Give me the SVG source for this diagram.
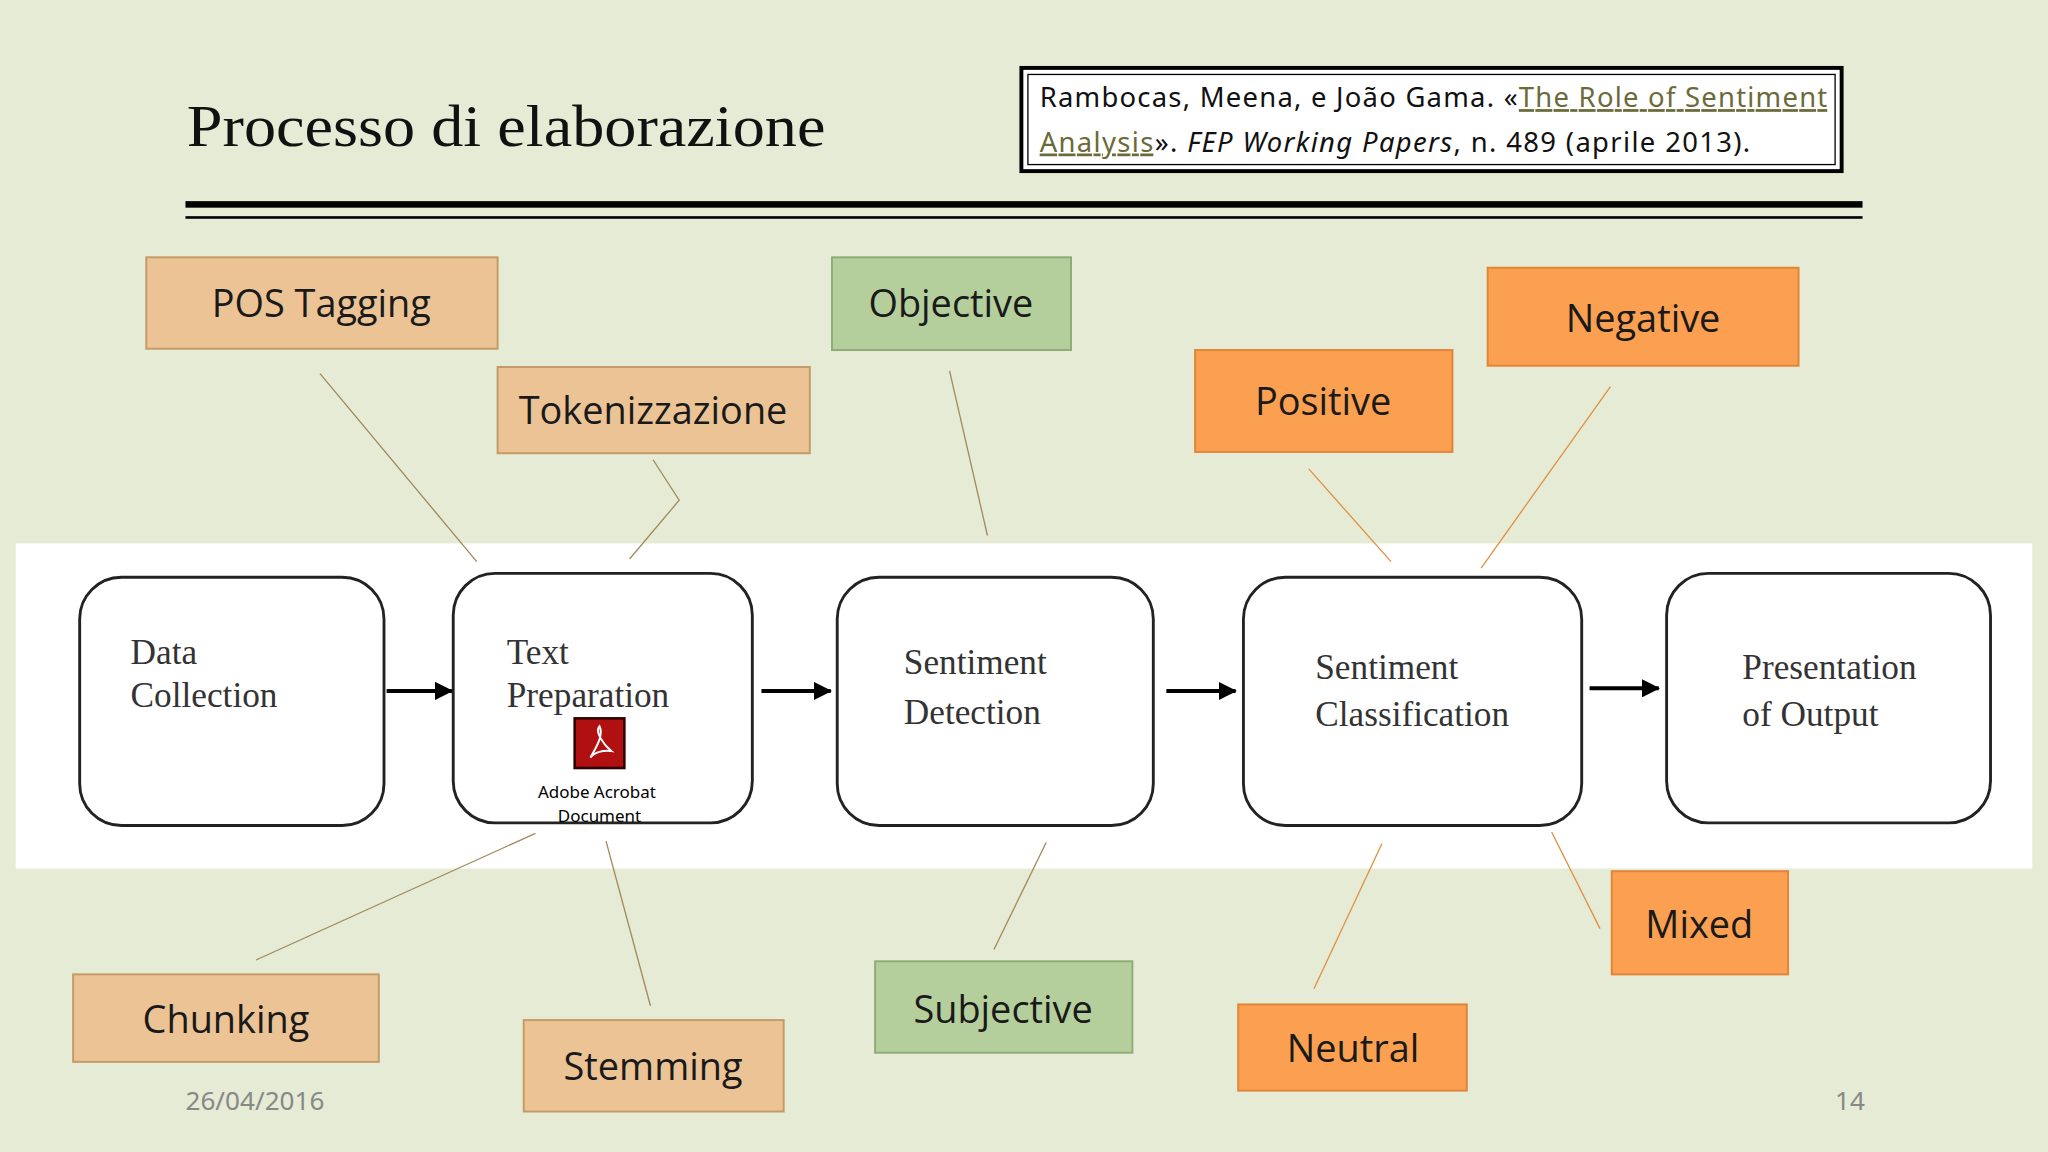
<svg xmlns="http://www.w3.org/2000/svg" width="2048" height="1152" viewBox="0 0 2048 1152">
<defs>
<style>
.tag{font-family:"Open Sans","Noto Sans",sans-serif;font-size:29px;text-anchor:middle;fill:#1a1a1a}
.tan{fill:#ebc395;stroke:#c49a68;stroke-width:1.5}
.grn{fill:#b5cf9c;stroke:#8fac77;stroke-width:1.5}
.org{fill:#fba050;stroke:#e0843a;stroke-width:1.5}
.proc{fill:#fff;stroke:#222;stroke-width:2.2}
.pt{font-family:"Liberation Serif",serif;font-size:27px;fill:#333}
.ln{stroke:#a08a5a;stroke-width:1;fill:none}
.lo{stroke:#e09040;stroke-width:1;fill:none}
.ar{stroke:#000;stroke-width:3}
</style>
<marker id="ah" markerWidth="14" markerHeight="14" refX="13" refY="7" orient="auto" markerUnits="userSpaceOnUse" viewBox="0 0 14 14"><path d="M0,0 L14,7 L0,14 z" fill="#000"/></marker>
</defs>
<g transform="scale(1.30612)">
<rect x="0" y="0" width="1568" height="882" fill="#e5ebd4"/>
<rect x="12" y="416" width="1544" height="249" fill="#fff"/>
<text x="143" y="112" font-family="Liberation Serif,serif" font-size="46" fill="#111" textLength="489" lengthAdjust="spacingAndGlyphs">Processo di elaborazione</text>
<rect x="782" y="52" width="628" height="79" fill="#fff" stroke="#000" stroke-width="3"/>
<rect x="787" y="57" width="618" height="69" fill="none" stroke="#000" stroke-width="1"/>
<text font-family="Noto Sans,sans-serif" font-size="21" fill="#111"><tspan x="796" y="82" textLength="603" lengthAdjust="spacing">Rambocas, Meena, e João Gama. «<tspan fill="#6b6b3a" text-decoration="underline">The Role of Sentiment</tspan></tspan></text>
<text font-family="Noto Sans,sans-serif" font-size="21" fill="#111" x="796" y="116" textLength="544" lengthAdjust="spacing"><tspan fill="#6b6b3a" text-decoration="underline">Analysis</tspan>».  <tspan font-style="italic">FEP Working Papers</tspan>, n.  489 (aprile 2013).</text>
<rect x="142" y="154" width="1284" height="5" fill="#000"/>
<rect x="142" y="165.5" width="1284" height="2" fill="#000"/>
<text x="142" y="850" font-family="Noto Sans,sans-serif" font-size="20" fill="#888">26/04/2016</text>
<text x="1405" y="850" font-family="Noto Sans,sans-serif" font-size="20" fill="#888">14</text>
<g id="connectors">
<path class="ln" d="M245,286 L365,430"/>
<path class="ln" d="M500,352 L520,383 L482,428"/>
<path class="ln" d="M727,284 L756,410"/>
<path class="lo" d="M1002,359 L1065,430"/>
<path class="lo" d="M1233,296 L1134,435"/>
<path class="ln" d="M410,638 L196,735"/>
<path class="ln" d="M464,644 L498,770"/>
<path class="ln" d="M801,645 L761,727"/>
<path class="lo" d="M1058,646 L1006,757"/>
<path class="lo" d="M1188,637 L1225,711"/>
<line class="ar" x1="296" y1="529" x2="346" y2="529" marker-end="url(#ah)"/>
<line class="ar" x1="583" y1="529" x2="636" y2="529" marker-end="url(#ah)"/>
<line class="ar" x1="893" y1="529" x2="946" y2="529" marker-end="url(#ah)"/>
<line class="ar" x1="1217" y1="527" x2="1270" y2="527" marker-end="url(#ah)"/>
</g>
<g id="data-collection"><rect class="proc" x="61" y="442" width="233" height="190" rx="32"/><text class="pt" x="100" y="508">Data</text><text class="pt" x="100" y="541">Collection</text></g>
<g id="text-preparation"><rect class="proc" x="347" y="439" width="229" height="191" rx="32"/><text class="pt" x="388" y="508">Text</text><text class="pt" x="388" y="541">Preparation</text>
<rect x="440" y="550" width="38" height="38" fill="#b01010" stroke="#300" stroke-width="2"/><path d="M452,580 C458,570 462,562 459,556 C455,560 462,570 468,575 C462,574 455,576 452,580" fill="none" stroke="#fff" stroke-width="1.5"/>
<text x="457" y="611" font-family="Noto Sans,sans-serif" font-size="13" text-anchor="middle" fill="#000">Adobe Acrobat</text><text x="459" y="629" font-family="Noto Sans,sans-serif" font-size="13" text-anchor="middle" fill="#000">Document</text></g>
<g id="sentiment-detection"><rect class="proc" x="641" y="442" width="242" height="190" rx="32"/><text class="pt" x="692" y="516">Sentiment</text><text class="pt" x="692" y="554">Detection</text></g>
<g id="sentiment-classification"><rect class="proc" x="952" y="442" width="259" height="190" rx="32"/><text class="pt" x="1007" y="520">Sentiment</text><text class="pt" x="1007" y="556">Classification</text></g>
<g id="presentation"><rect class="proc" x="1276" y="439" width="248" height="191" rx="32"/><text class="pt" x="1334" y="520">Presentation</text><text class="pt" x="1334" y="556">of Output</text></g>
<g id="pos-tagging"><rect class="tan" x="112" y="197" width="269" height="70"/><text class="tag" x="246" y="243">POS Tagging</text></g>
<g id="tokenizzazione"><rect class="tan" x="381" y="281" width="239" height="66"/><text class="tag" x="500" y="325">Tokenizzazione</text></g>
<g id="chunking"><rect class="tan" x="56" y="746" width="234" height="67"/><text class="tag" x="173" y="791">Chunking</text></g>
<g id="stemming"><rect class="tan" x="401" y="781" width="199" height="70"/><text class="tag" x="500" y="827">Stemming</text></g>
<g id="objective"><rect class="grn" x="637" y="197" width="183" height="71"/><text class="tag" x="728" y="243">Objective</text></g>
<g id="subjective"><rect class="grn" x="670" y="736" width="197" height="70"/><text class="tag" x="768" y="783">Subjective</text></g>
<g id="negative"><rect class="org" x="1139" y="205" width="238" height="75"/><text class="tag" x="1258" y="254">Negative</text></g>
<g id="positive"><rect class="org" x="915" y="268" width="197" height="78"/><text class="tag" x="1013" y="318">Positive</text></g>
<g id="mixed"><rect class="org" x="1234" y="667" width="135" height="79"/><text class="tag" x="1301" y="718">Mixed</text></g>
<g id="neutral"><rect class="org" x="948" y="769" width="175" height="66"/><text class="tag" x="1036" y="813">Neutral</text></g>
</g>
</svg>
